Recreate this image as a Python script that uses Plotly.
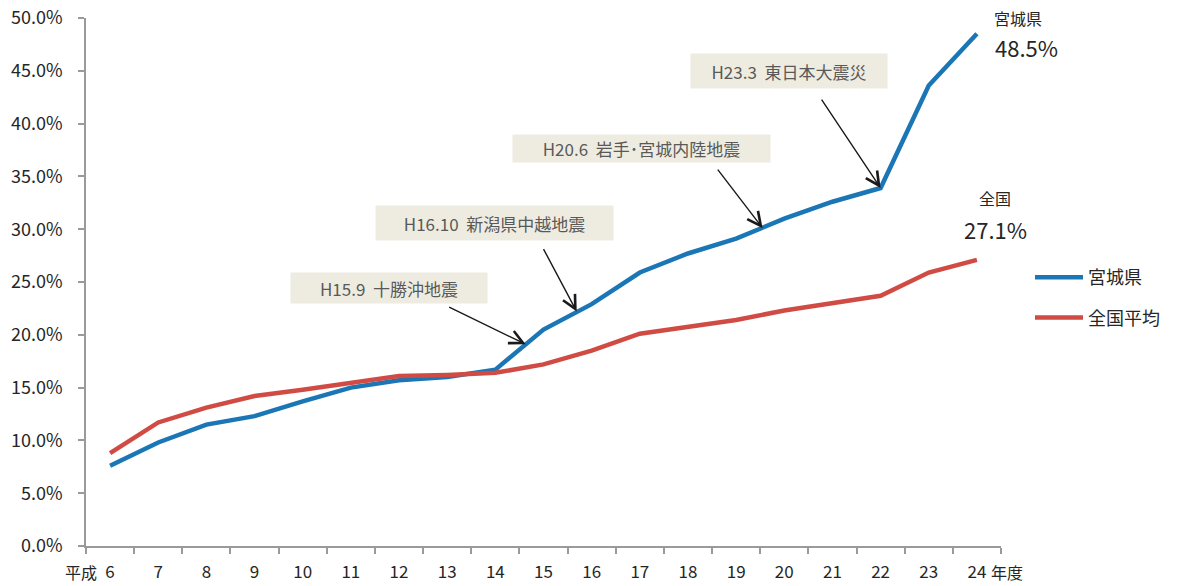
import plotly.graph_objects as go

# 年度（平成）
years = ["6", "7", "8", "9", "10", "11", "12", "13", "14", "15",
         "16", "17", "18", "19", "20", "21", "22", "23", "24"]

# 宮城県
miyagi = [7.6, 9.8, 11.5, 12.3, 13.7, 15.0, 15.7, 16.0, 16.7, 20.5,
          22.9, 25.9, 27.7, 29.1, 31.0, 32.6, 33.9, 43.6, 48.5]

# 全国平均
national = [8.8, 11.7, 13.1, 14.2, 14.8, 15.4, 16.1, 16.2, 16.4, 17.2,
            18.5, 20.1, 20.7, 21.4, 22.3, 23.0, 23.7, 25.9, 27.1]

# 地震の注記: (ラベル, 矢印先の年度位置, 値)
quakes = [
    ("H15.9  十勝沖地震", 8.63, 19.1),
    ("H16.10  新潟県中越地震", 9.69, 22.2),
    ("H20.6  岩手･宮城内陸地震", 13.55, 30.1),
    ("H23.3  東日本大震災", 16.0, 33.9),
]

FONT = "Noto Sans CJK JP"
BLUE = "#1B76B6"
RED = "#D14B45"
AXIS = "#9A9A9A"

fig = go.Figure()
fig.add_trace(go.Scatter(x=years, y=[v / 100 for v in miyagi], name="宮城県",
                         mode="lines", line=dict(color=BLUE, width=4.5),
                         legendgroup="a"))
fig.add_trace(go.Scatter(x=years, y=[v / 100 for v in national], name="全国平均",
                         mode="lines", line=dict(color=RED, width=4.5),
                         legendgroup="b"))

W, H = 1181, 586
L, R, T, B = 86, 180, 18, 40
pw, ph = W - L - R, H - T - B


def px(x):
    return (x - L) / pw


def py(y):
    return (H - B - y) / ph


annotations = []

# 注記ボックス（中心座標・幅・高さ）
boxes = [(389, 288, 196, 30), (494.5, 223, 237, 34),
         (641.5, 148.5, 257, 27), (789, 71, 196, 34)]
# 矢印の尾の相対位置 (px)
tails = [(-78, -38), (-34, -64), (-46, -60), (-60, -90)]

for (label, xi, val), (cx, cy, bw, bh), (tx, ty) in zip(quakes, boxes, tails):
    annotations.append(dict(
        x=px(cx), y=py(cy), xref="paper", yref="paper", text=label,
        showarrow=False, xanchor="center", yanchor="middle",
        width=bw, height=bh, bgcolor="#EEECE1", borderpad=0,
        font=dict(family=FONT, size=17, color="#595959")))
    annotations.append(dict(
        x=xi, y=val / 100, xref="x", yref="y", text="",
        showarrow=True, arrowhead=5, arrowsize=1.9, arrowwidth=1.4,
        arrowcolor="#1A1A1A", ax=tx, ay=ty, axref="pixel", ayref="pixel",
        standoff=0))

# 終点ラベル
end_labels = [("宮城県", 1018, 18, 16), ("48.5%", 1026, 47, 22),
              ("全国", 995, 198, 16), ("27.1%", 995, 229, 22)]
for txt, cx, cy, fs in end_labels:
    annotations.append(dict(
        x=px(cx), y=py(cy), xref="paper", yref="paper", text=txt,
        showarrow=False, xanchor="center", yanchor="middle",
        font=dict(family=FONT, size=fs, color="#262626")))

# 軸の補助ラベル（下端に収める）
annotations.append(dict(x=px(98), y=py(585), xref="paper", yref="paper",
                        text="平成", showarrow=False, xanchor="right",
                        yanchor="bottom", borderpad=0,
                        font=dict(family=FONT, size=16, color="#262626")))
annotations.append(dict(x=px(990), y=py(585), xref="paper", yref="paper",
                        text="年度", showarrow=False, xanchor="left",
                        yanchor="bottom", borderpad=0,
                        font=dict(family=FONT, size=16, color="#262626")))

fig.update_layout(
    width=W, height=H,
    margin=dict(l=L, r=R, t=T, b=B),
    paper_bgcolor="white", plot_bgcolor="white",
    font=dict(family=FONT, color="#262626"),
    showlegend=True,
    legend=dict(x=px(1030), y=py(259), xanchor="left", yanchor="top",
                font=dict(family=FONT, size=18, color="#262626"),
                itemwidth=48, tracegroupgap=14, bgcolor="rgba(0,0,0,0)"),
    annotations=annotations,
)

fig.update_xaxes(
    type="category", tickson="boundaries", range=[-0.5, 18.5],
    showline=True, linecolor=AXIS, linewidth=1.5,
    ticks="outside", ticklen=6, tickcolor=AXIS, tickwidth=1.5,
    showgrid=False, zeroline=False, automargin=False,
    ticklabelstandoff=10,
    tickfont=dict(family=FONT, size=17, color="#262626"),
)
fig.update_yaxes(
    range=[0, 0.5], dtick=0.05, tickformat=".1%",
    showline=True, linecolor=AXIS, linewidth=1.5,
    ticks="outside", ticklen=6, tickcolor=AXIS, tickwidth=1.5,
    showgrid=False, zeroline=False, automargin=False,
    ticklabelstandoff=12,
    tickfont=dict(family=FONT, size=18, color="#262626"),
)

fig.write_html("out.html")
